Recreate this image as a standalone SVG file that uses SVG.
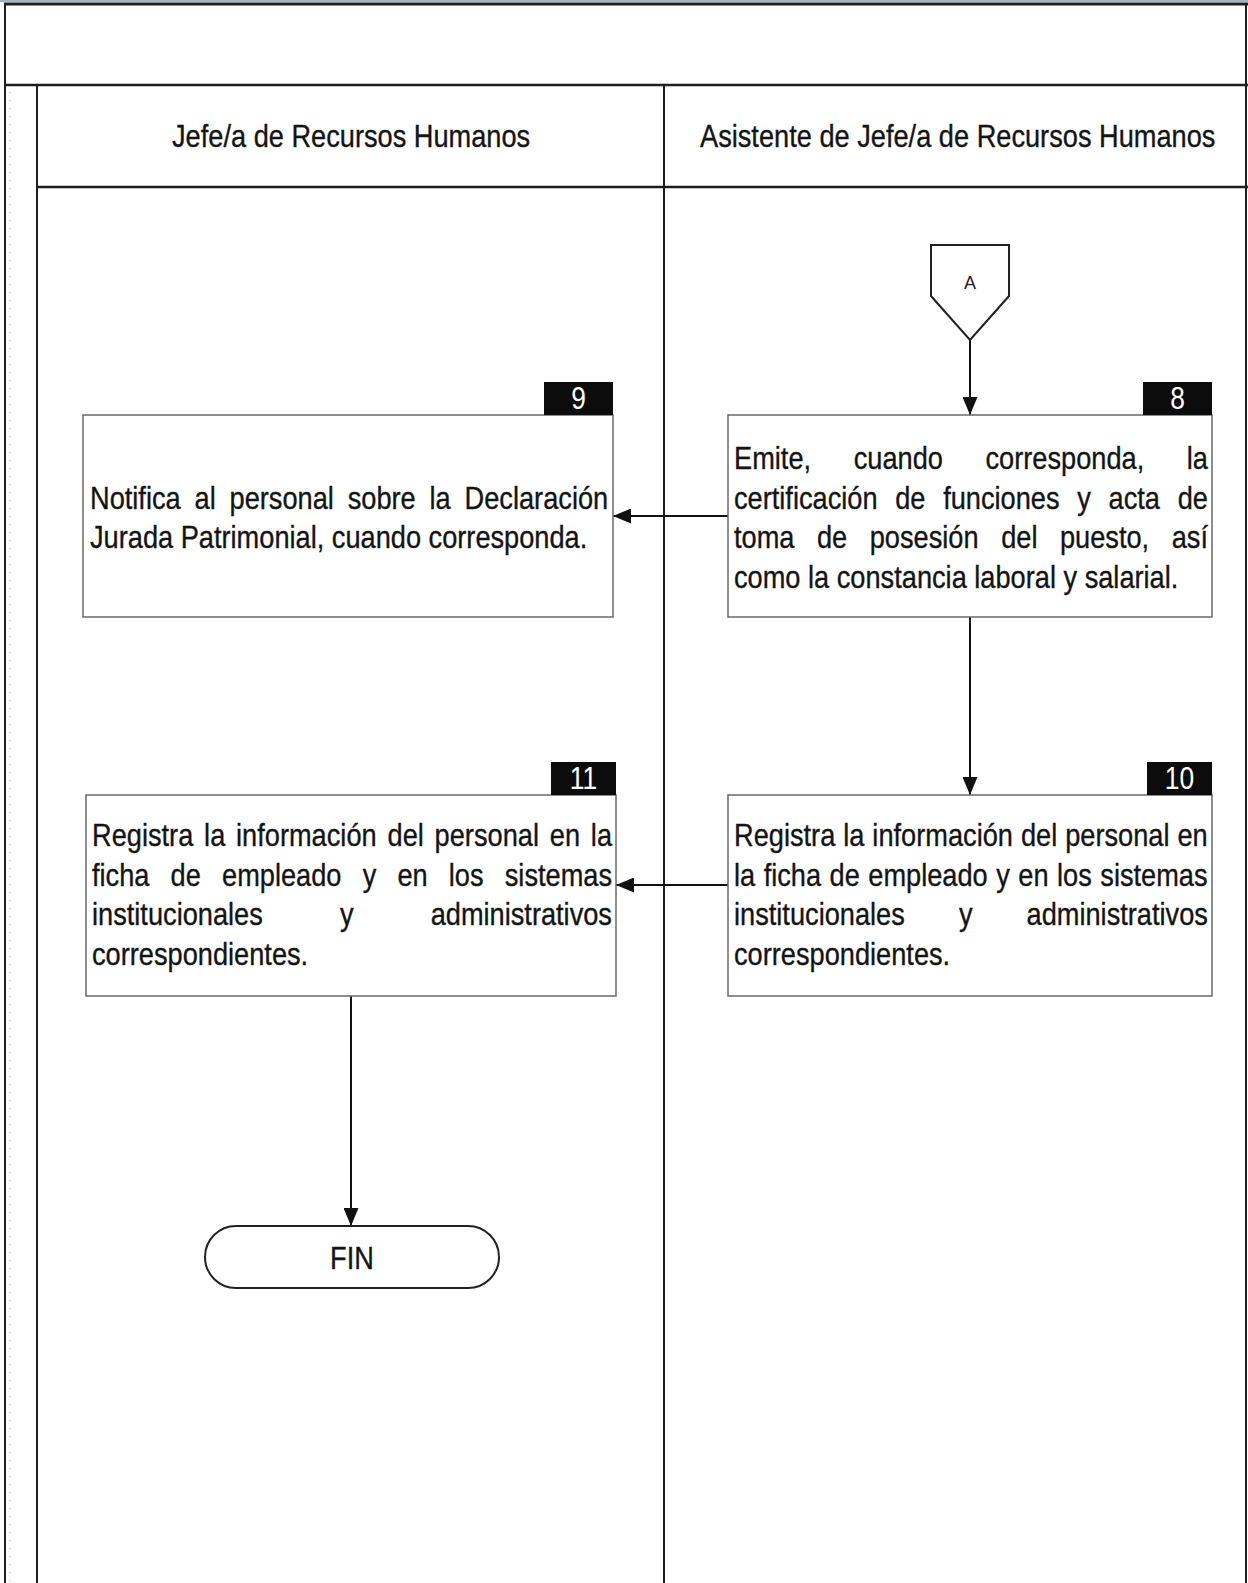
<svg xmlns="http://www.w3.org/2000/svg" width="1248" height="1583" viewBox="0 0 1248 1583">
  <style>
    .t { font-family: "Liberation Sans", Arial, sans-serif; font-size: 32px; fill: #141414; stroke: #141414; stroke-width: 0.35; }
    .num { font-family: "Liberation Sans", Arial, sans-serif; font-size: 31px; fill: #ffffff; text-anchor: middle; }
    .lbl { font-family: "Liberation Sans", Arial, sans-serif; font-size: 18px; fill: #222; text-anchor: middle; }
    .mid { text-anchor: middle; }
    .frame { stroke: #1e1e1e; fill: none; }
    .box { fill: #ffffff; stroke: #6a6a6a; stroke-width: 1.5; }
    .badge { fill: #0c0c0c; }
    .edge { stroke: #111; stroke-width: 2; fill: none; marker-end: url(#arrow); }
  </style>
  <defs>
    <marker id="arrow" markerUnits="userSpaceOnUse" markerWidth="18" markerHeight="15" refX="18" refY="7.5" orient="auto">
      <path d="M0,0 L18,7.5 L0,15 Z" fill="#111"/>
    </marker>
  </defs>

  <rect x="0" y="0" width="1248" height="1583" fill="#ffffff"/>

  <!-- swimlane frame -->
  <g id="frame">
    <line x1="0" y1="1" x2="1248" y2="1" stroke="#9fb3c8" stroke-width="2"/>
    <line class="frame" x1="4" y1="4" x2="1248" y2="4" stroke-width="3"/>
    <line class="frame" x1="5" y1="4" x2="5" y2="1583" stroke-width="2"/>
    <line class="frame" x1="1246" y1="4" x2="1246" y2="1583" stroke-width="2"/>
    <line class="frame" x1="5" y1="85" x2="1248" y2="85" stroke-width="2.5"/>
    <line class="frame" x1="37" y1="85" x2="37" y2="1583" stroke-width="2"/>
    <line class="frame" x1="664" y1="85" x2="664" y2="1583" stroke-width="2"/>
    <line class="frame" x1="37" y1="187" x2="1248" y2="187" stroke-width="2.5"/>
    <line x1="10" y1="92" x2="10" y2="1583" stroke="#a8a8a8" stroke-width="1" stroke-dasharray="1 7"/>
    <text class="t" transform="translate(172 147) scale(0.85 1)">Jefe/a de Recursos Humanos</text>
    <text class="t" transform="translate(700 147) scale(0.85 1)">Asistente de Jefe/a de Recursos Humanos</text>
  </g>

  <!-- connectors -->
  <g id="connectors">
    <path class="edge" d="M970,340 V415"/>
    <path class="edge" d="M728,516 H613"/>
    <path class="edge" d="M970,617 V795"/>
    <path class="edge" d="M728,885 H616"/>
    <path class="edge" d="M351,996 V1226"/>
  </g>

  <!-- off-page connector A -->
  <g id="connector-A">
    <path d="M931,245 H1009 V296 L970,340 L931,296 Z" fill="#ffffff" stroke="#222" stroke-width="2"/>
    <text class="lbl" x="970" y="289">A</text>
  </g>

  <!-- step 8 -->
  <g id="step-8">
    <rect class="box" x="728" y="415" width="484" height="202"/>
    <rect class="badge" x="1143" y="382" width="69" height="33"/>
    <text class="num" transform="translate(1177.5 409) scale(0.85 1)">8</text>
    <text class="t" transform="translate(734 469) scale(0.85 1)"><tspan x="0">Emite,</tspan><tspan x="140.8">cuando</tspan><tspan x="295.9">corresponda,</tspan><tspan x="532.7">la</tspan></text>
    <text class="t" transform="translate(734 508.5) scale(0.85 1)"><tspan x="0">certificación</tspan><tspan x="189.7">de</tspan><tspan x="246.1">funciones</tspan><tspan x="403.9">y</tspan><tspan x="440.7">acta</tspan><tspan x="522">de</tspan></text>
    <text class="t" transform="translate(734 548) scale(0.85 1)"><tspan x="0">toma</tspan><tspan x="97.6">de</tspan><tspan x="159.7">posesión</tspan><tspan x="314.3">del</tspan><tspan x="383.5">puesto,</tspan><tspan x="515">así</tspan></text>
    <text class="t" transform="translate(734 587.5) scale(0.85 1)">como la constancia laboral y salarial.</text>
  </g>

  <!-- step 9 -->
  <g id="step-9">
    <rect class="box" x="83" y="415" width="530" height="202"/>
    <rect class="badge" x="544" y="382" width="69" height="33"/>
    <text class="num" transform="translate(578.5 409) scale(0.85 1)">9</text>
    <text class="t" transform="translate(90 508.5) scale(0.85 1)"><tspan x="0">Notifica</tspan><tspan x="123">al</tspan><tspan x="164.2">personal</tspan><tspan x="303.2">sobre</tspan><tspan x="399.5">la</tspan><tspan x="440.7">Declaración</tspan></text>
    <text class="t" transform="translate(90 548) scale(0.85 1)">Jurada Patrimonial, cuando corresponda.</text>
  </g>

  <!-- step 10 -->
  <g id="step-10">
    <rect class="box" x="728" y="795" width="484" height="201"/>
    <rect class="badge" x="1147" y="762" width="65" height="33"/>
    <text class="num" transform="translate(1179.5 789) scale(0.85 1)">10</text>
    <text class="t" transform="translate(734 846) scale(0.85 1)" word-spacing="0.5">Registra la información del personal en</text>
    <text class="t" transform="translate(734 885.5) scale(0.85 1)" word-spacing="1.1">la ficha de empleado y en los sistemas</text>
    <text class="t" transform="translate(734 925) scale(0.85 1)"><tspan x="0">institucionales</tspan><tspan x="264.6">y</tspan><tspan x="344.2">administrativos</tspan></text>
    <text class="t" transform="translate(734 964.5) scale(0.85 1)">correspondientes.</text>
  </g>

  <!-- step 11 -->
  <g id="step-11">
    <rect class="box" x="86" y="795" width="530" height="201"/>
    <rect class="badge" x="551" y="762" width="65" height="33"/>
    <text class="num" transform="translate(583.5 789) scale(0.85 1)">11</text>
    <text class="t" transform="translate(92 846) scale(0.85 1)"><tspan x="0">Registra</tspan><tspan x="131.9">la</tspan><tspan x="169.5">información</tspan><tspan x="347.7">del</tspan><tspan x="403.1">personal</tspan><tspan x="538.6">en</tspan><tspan x="586.9">la</tspan></text>
    <text class="t" transform="translate(92 885.5) scale(0.85 1)"><tspan x="0">ficha</tspan><tspan x="92.5">de</tspan><tspan x="153">empleado</tspan><tspan x="318.4">y</tspan><tspan x="359.3">en</tspan><tspan x="419.8">los</tspan><tspan x="485.6">sistemas</tspan></text>
    <text class="t" transform="translate(92 925) scale(0.85 1)"><tspan x="0">institucionales</tspan><tspan x="291.7">y</tspan><tspan x="398.4">administrativos</tspan></text>
    <text class="t" transform="translate(92 964.5) scale(0.85 1)">correspondientes.</text>
  </g>

  <!-- end terminator -->
  <g id="end">
    <rect x="205" y="1226" width="294" height="62" rx="31" ry="31" fill="#ffffff" stroke="#222" stroke-width="2"/>
    <text class="t mid" transform="translate(352 1269) scale(0.85 1)">FIN</text>
  </g>
</svg>
